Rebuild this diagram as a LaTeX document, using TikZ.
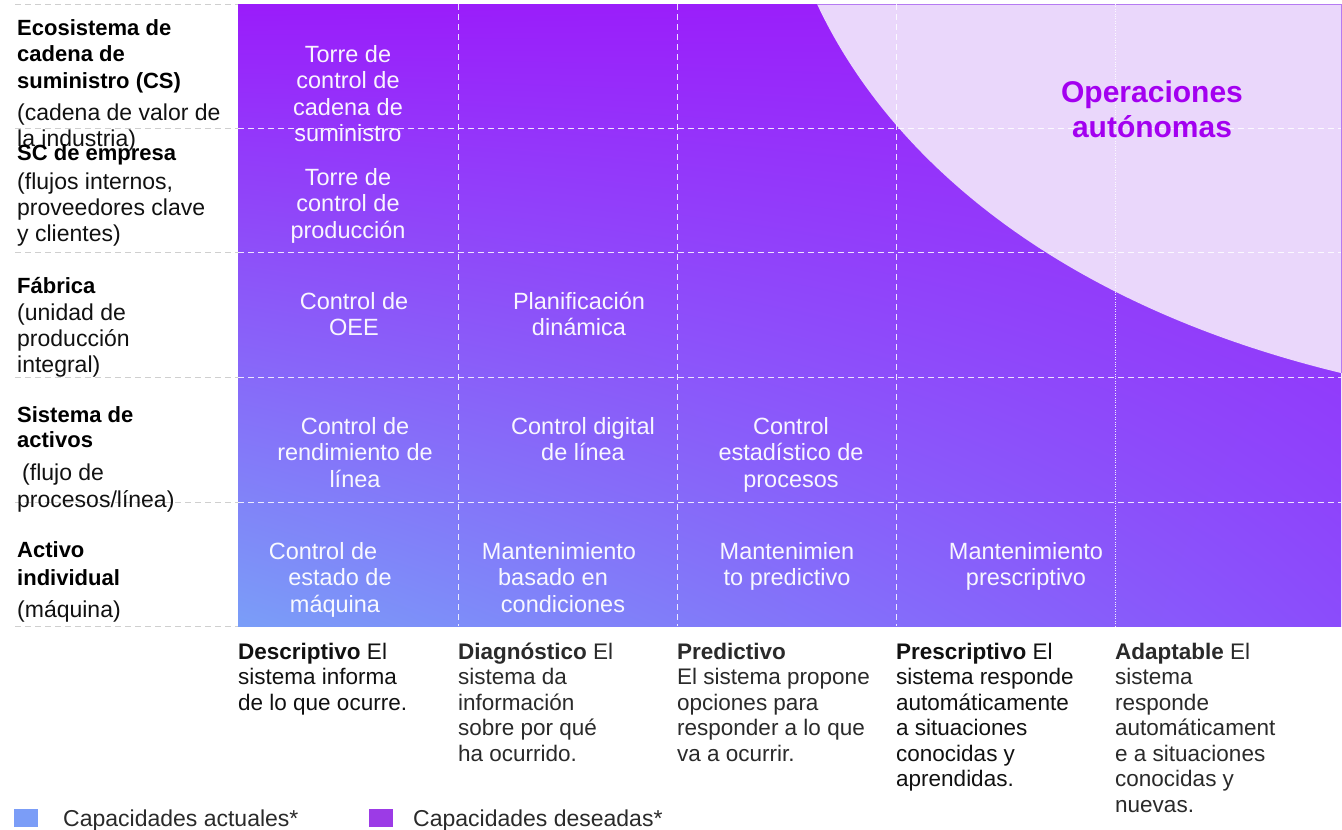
\documentclass[tikz,border=0pt]{standalone}
\usepackage{fontspec}
\usetikzlibrary{shadings}
\setmainfont{Liberation Sans}
\definecolor{pTL}{HTML}{9A1CFA}
\definecolor{pTR}{HTML}{9A22FA}
\definecolor{pBL}{HTML}{7A9EF8}
\definecolor{pBR}{HTML}{8B4CFB}
\definecolor{lav}{HTML}{EAD7FB}
\definecolor{lavEdge}{HTML}{B57AF2}
\definecolor{opTxt}{HTML}{A300F0}
\definecolor{gridGrey}{HTML}{CFCFCF}
\definecolor{legBlue}{HTML}{7B9DF7}
\definecolor{legPurple}{HTML}{9C3BE6}
\definecolor{ink}{HTML}{111111}
\definecolor{inkLight}{HTML}{2A2A2A}
\newcommand\txtlines[6]{\foreach \t [count=\i] in {#6}{\node[#2] (#1-\i) at (#3,{#4+(\i-1)*#5}) {\t};}}
\begin{document}
\begin{tikzpicture}[x=1pt,y=-1pt,
  cell/.style={text=white, text opacity=0.95, font=\fontsize{23.5}{26}\selectfont, inner sep=0pt, anchor=base},
  lbl/.style={text=ink, font=\fontsize{23}{26}\selectfont, inner sep=0pt, anchor=base west},
  lblb/.style={text=black, font=\bfseries\fontsize{22}{26}\selectfont, inner sep=0pt, anchor=base west},
  desc/.style={text=ink, font=\fontsize{22.5}{25}\selectfont, inner sep=0pt, anchor=base west},
  descl/.style={desc, text=inkLight},
  hgrid/.style={white, line width=1pt, dash pattern=on 6pt off 4pt, opacity=0.85},
  vgrid/.style={white, line width=1pt, dash pattern=on 6pt off 4pt, opacity=0.85},
  vdot/.style={white, line width=0.9pt, dash pattern=on 1pt off 1.4pt, opacity=0.9},
  ggrid/.style={gridGrey, line width=1pt, dash pattern=on 6pt off 4pt},
  legsq/.style={minimum width=24pt, minimum height=18pt, inner sep=0pt, anchor=north west},
  optext/.style={text=opTxt, font=\bfseries\fontsize{30}{36}\selectfont, inner sep=0pt, anchor=base}
]
\useasboundingbox (0,0) rectangle (1342,830);
\fill[white] (0,0) rectangle (1342,830);
% gradient area
\shade[upper left=pTL, upper right=pTR, lower left=pBL, lower right=pBR] (238,4) rectangle (1341,626);
% autonomous region
\fill[lav] (817,4) .. controls (890,160) and (1060,305) .. (1341,373) -- (1341,4) -- cycle;
\draw[lavEdge, line width=1pt] (817,4) -- (1341,4) -- (1341,373);
% grid in purple area
\foreach \y in {128,252,377,502} \draw[hgrid] (238,\y) -- (1341,\y);
\foreach \x in {458,677,896} \draw[vgrid] (\x,4) -- (\x,626);
\draw[vdot] (1115,4) -- (1115,626);
% grey grid in label area
\foreach \y in {4,128,252,377,502,626} \draw[ggrid] (15,\y) -- (238,\y);
% row labels
\txtlines{lA}{lblb}{17}{35}{26.5}{Ecosistema de, cadena de, suministro (CS)}
\node[lbl] (lAd1) at (17,120) {(cadena de valor de};
\node[lbl] (lAd2) at (17,146) {la industria)};
\node[lblb] (lB) at (17,160) {SC de empresa};
\node[lbl] (lBd1) at (17,189) {(flujos internos,};
\node[lbl] (lBd2) at (17,215) {proveedores clave};
\node[lbl] (lBd3) at (17,241) {y clientes)};
\node[lblb] (lC) at (17,293) {Fábrica};
\node[lbl] (lCd1) at (17,320) {(unidad de};
\node[lbl] (lCd2) at (17,346) {producción};
\node[lbl] (lCd3) at (17,372) {integral)};
\txtlines{lD}{lblb}{17}{422}{25.5}{Sistema de, activos}
\node[lbl] (lDd1) at (22,480) {(flujo de};
\node[lbl] (lDd2) at (17,507) {procesos/línea)};
\txtlines{lE}{lblb}{17}{557}{28}{Activo, individual}
\node[lbl] (lEd) at (17,617) {(máquina)};
% cells
\txtlines{c11}{cell}{348}{62}{26.5}{Torre de, control de, cadena de, suministro}
\txtlines{c21}{cell}{348}{185}{26.5}{Torre de, control de, producción}
\txtlines{c31}{cell}{354}{309}{26}{Control de, OEE}
\txtlines{c32}{cell}{579}{309}{26}{Planificación, dinámica}
\txtlines{c41}{cell}{355}{434}{26.5}{Control de, rendimiento de, línea}
\txtlines{c42}{cell}{583}{434}{26.5}{Control digital, de línea}
\txtlines{c43}{cell}{791}{434}{26.5}{Control, estadístico de, procesos}
\node[cell] (c51-1) at (323,559) {Control de};
\node[cell] (c51-2) at (340,585) {estado de};
\node[cell] (c51-3) at (335,612) {máquina};
\node[cell] (c52-1) at (559,559) {Mantenimiento};
\node[cell] (c52-2) at (553,585) {basado en};
\node[cell] (c52-3) at (563,612) {condiciones};
\txtlines{c53}{cell}{787}{559}{26}{Mantenimien, to predictivo}
\txtlines{c54}{cell}{1026}{559}{26}{Mantenimiento, prescriptivo}
% autonomous label
\node[optext] (op1) at (1152,102) {Operaciones};
\node[optext] (op2) at (1152,137) {autónomas};
% column descriptions
\txtlines{d1}{desc}{238}{659}{25.5}{\textbf{Descriptivo} El, sistema informa, de lo que ocurre.}
\txtlines{d2}{descl}{458}{659}{25.5}{\textbf{Diagnóstico} El, sistema da, información, sobre por qué, ha ocurrido.}
\txtlines{d3}{descl}{677}{659}{25.5}{\textbf{Predictivo}, El sistema propone, opciones para, responder a lo que, va a ocurrir.}
\txtlines{d4}{desc}{896}{659}{25.5}{\textbf{Prescriptivo} El, sistema responde, automáticamente, a situaciones, conocidas y, aprendidas.}
\txtlines{d5}{descl}{1115}{659}{25.5}{\textbf{Adaptable} El, sistema, responde, automáticament, e a situaciones, conocidas y, nuevas.}
% legend
\node[legsq, fill=legBlue] (legA) at (14,809) {};
\node[desc, text=inkLight, font=\fontsize{23}{26}\selectfont] (legAt) at (63,826) {Capacidades actuales*};
\node[legsq, fill=legPurple] (legB) at (369,809) {};
\node[desc, text=inkLight, font=\fontsize{23}{26}\selectfont] (legBt) at (413,826) {Capacidades deseadas*};
\end{tikzpicture}
\end{document}
